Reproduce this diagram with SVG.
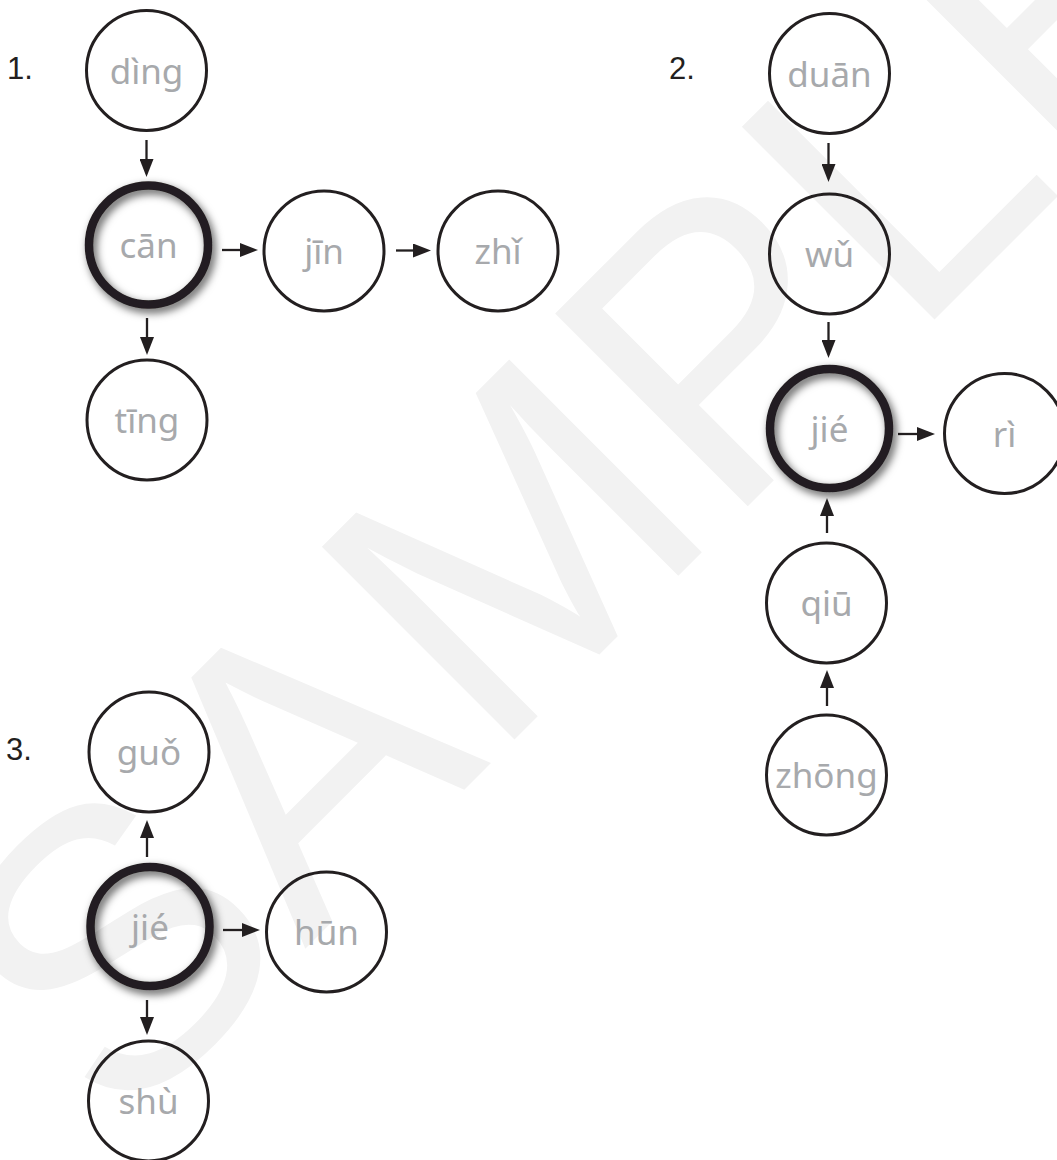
<svg xmlns="http://www.w3.org/2000/svg" width="1057" height="1160" viewBox="0 0 1057 1160">
<style>
.wm{font-family:"Liberation Sans",Arial,sans-serif;font-size:396px;fill:#f2f2f2}
.num{font-family:"Liberation Sans",Arial,sans-serif;font-size:31px;fill:#231f20}
.lbl{font-family:"Noto Sans","Open Sans",sans-serif;font-size:35px;fill:#a7a9ac;text-anchor:middle}
.n{fill:none;stroke:#231f20;stroke-width:3}
.b{fill:none;stroke:#231f20;stroke-width:8.5;filter:url(#sh)}
.c{stroke:#231f20;stroke-width:2.3;fill:none;marker-end:url(#ah)}
</style>
<defs>
<filter id="sh" x="-30%" y="-30%" width="160%" height="160%">
<feGaussianBlur in="SourceAlpha" stdDeviation="4.5"/>
<feOffset dx="3" dy="4" result="b"/>
<feFlood flood-color="#000" flood-opacity="0.65"/>
<feComposite in2="b" operator="in"/>
<feMerge><feMergeNode/><feMergeNode in="SourceGraphic"/></feMerge>
</filter>
<marker id="ah" markerUnits="userSpaceOnUse" markerWidth="18" markerHeight="14" refX="12" refY="7" orient="auto">
<path d="M0,0 L18,7 L0,14 z" fill="#231f20"/>
</marker>
</defs>
<rect width="1057" height="1160" fill="#fff"/>
<text class="wm" x="118" y="1136" transform="rotate(-45 118 1136)">SAMPLE</text>

<text class="num" x="7" y="79">1.</text>
<text class="num" x="669" y="79">2.</text>
<text class="num" x="6" y="760">3.</text>

<g id="connectors">
<line class="c" x1="146.5" y1="140" x2="146.5" y2="171"/>
<line class="c" x1="222" y1="250" x2="252" y2="250"/>
<line class="c" x1="396" y1="250.5" x2="425" y2="250.5"/>
<line class="c" x1="147" y1="318" x2="147" y2="349"/>
<line class="c" x1="828.5" y1="143" x2="828.5" y2="176"/>
<line class="c" x1="828.5" y1="322" x2="828.5" y2="352"/>
<line class="c" x1="898" y1="434" x2="929" y2="434"/>
<line class="c" x1="827" y1="533" x2="827" y2="504"/>
<line class="c" x1="827" y1="706" x2="827" y2="676"/>
<line class="c" x1="147" y1="857" x2="147" y2="826"/>
<line class="c" x1="223" y1="930" x2="254" y2="930"/>
<line class="c" x1="147" y1="1000" x2="147" y2="1029"/>
</g>

<g id="n-ding"><circle class="n" cx="146.5" cy="70.5" r="60"/><text class="lbl" x="146.5" y="83.5">dìng</text></g>
<g id="n-can"><circle class="b" cx="148.5" cy="245" r="59.5"/><text class="lbl" x="148.5" y="258">cān</text></g>
<g id="n-jin"><circle class="n" cx="324" cy="251" r="60"/><text class="lbl" x="324" y="264">jīn</text></g>
<g id="n-zhi"><circle class="n" cx="498" cy="251" r="60"/><text class="lbl" x="498" y="264">zhǐ</text></g>
<g id="n-ting"><circle class="n" cx="147" cy="420" r="60"/><text class="lbl" x="147" y="433">tīng</text></g>

<g id="n-duan"><circle class="n" cx="829.5" cy="73.5" r="60"/><text class="lbl" x="829.5" y="86.5">duān</text></g>
<g id="n-wu"><circle class="n" cx="829.5" cy="254" r="60"/><text class="lbl" x="829.5" y="267">wǔ</text></g>
<g id="n-jie2"><circle class="b" cx="829.5" cy="428.5" r="59.5"/><text class="lbl" x="829.5" y="441.5">jié</text></g>
<g id="n-ri"><circle class="n" cx="1004.5" cy="433.5" r="60"/><text class="lbl" x="1004.5" y="446.5">rì</text></g>
<g id="n-qiu"><circle class="n" cx="826.5" cy="603" r="60"/><text class="lbl" x="826.5" y="616">qiū</text></g>
<g id="n-zhong"><circle class="n" cx="826.5" cy="775" r="60"/><text class="lbl" x="826.5" y="788">zhōng</text></g>

<g id="n-guo"><circle class="n" cx="149" cy="752" r="60"/><text class="lbl" x="149" y="765">guǒ</text></g>
<g id="n-jie3"><circle class="b" cx="150" cy="926.5" r="59.5"/><text class="lbl" x="150" y="939.5">jié</text></g>
<g id="n-hun"><circle class="n" cx="326.5" cy="932" r="60"/><text class="lbl" x="326.5" y="945">hūn</text></g>
<g id="n-shu"><circle class="n" cx="148.5" cy="1101" r="60"/><text class="lbl" x="148.5" y="1114">shù</text></g>
</svg>
